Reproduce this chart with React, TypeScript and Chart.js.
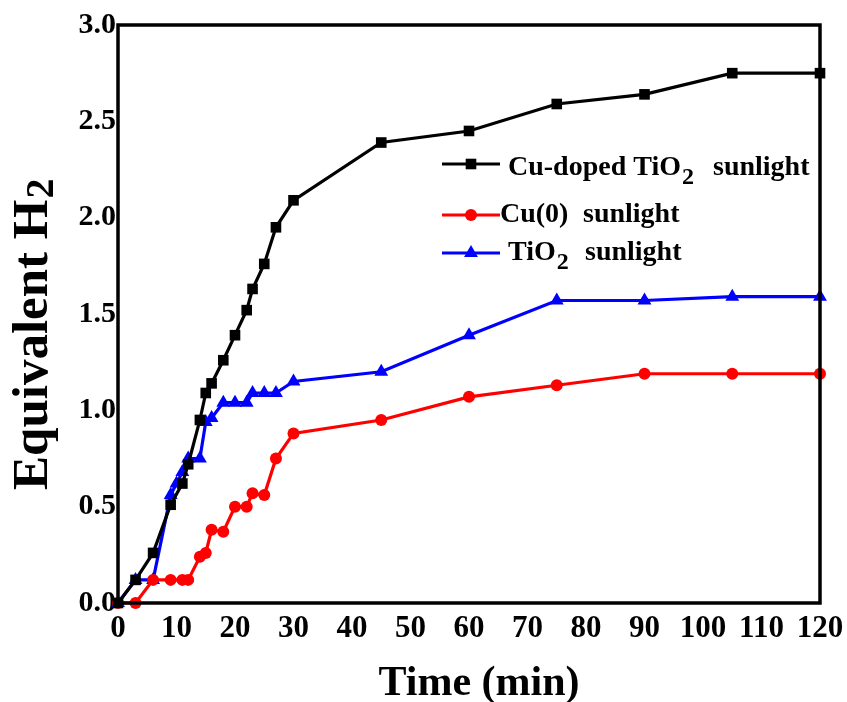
import React, { useEffect, useRef } from "react";
import { Chart, registerables } from "chart.js";

Chart.register(...registerables);

const xTickValues = [0, 10, 20, 30, 40, 50, 60, 70, 80, 90, 100, 110, 120];
const yTickValues = [0, 0.5, 1.0, 1.5, 2.0, 2.5, 3.0];

const cuDopedTimes = [0, 3, 6, 9, 11, 12, 14, 15, 16, 18, 20, 22, 23, 25, 27, 30, 45, 60, 75, 90, 105, 120];
const cuDopedValues = [0, 0.12, 0.26, 0.51, 0.62, 0.72, 0.95, 1.09, 1.14, 1.26, 1.39, 1.52, 1.63, 1.76, 1.95, 2.09, 2.39, 2.45, 2.59, 2.64, 2.75, 2.75];

const cu0Times = [0, 3, 6, 9, 11, 12, 14, 15, 16, 18, 20, 22, 23, 25, 27, 30, 45, 60, 75, 90, 105, 120];
const cu0Values = [0, 0, 0.12, 0.12, 0.12, 0.12, 0.24, 0.26, 0.38, 0.37, 0.5, 0.5, 0.57, 0.56, 0.75, 0.88, 0.95, 1.07, 1.13, 1.19, 1.19, 1.19];

const tio2Times = [0, 3, 6, 9, 10, 11, 12, 14, 15, 16, 18, 20, 22, 23, 25, 27, 30, 45, 60, 75, 90, 105, 120];
const tio2Values = [0, 0.12, 0.12, 0.56, 0.62, 0.68, 0.75, 0.75, 0.94, 0.96, 1.04, 1.04, 1.04, 1.09, 1.09, 1.09, 1.15, 1.2, 1.39, 1.57, 1.57, 1.59, 1.59];

const FONT = "'Liberation Serif', 'Times New Roman', serif";

const toPoints = (xs: number[], ys: number[]) => xs.map((x, i) => ({ x, y: ys[i] }));

function drawMarker(ctx: CanvasRenderingContext2D, style: string, x: number, y: number, r: number, color: string) {
  ctx.save();
  ctx.fillStyle = color;
  ctx.beginPath();
  if (style === "rect") {
    const s = r * Math.SQRT1_2;
    ctx.rect(x - s, y - s, 2 * s, 2 * s);
  } else if (style === "circle") {
    ctx.arc(x, y, r, 0, Math.PI * 2);
  } else {
    ctx.moveTo(x, y - r);
    ctx.lineTo(x + r * 0.866, y + r * 0.5);
    ctx.lineTo(x - r * 0.866, y + r * 0.5);
    ctx.closePath();
  }
  ctx.fill();
  ctx.restore();
}

const decorPlugin = {
  id: "decor",
  afterDatasetsDraw(chart: any) {
    const { ctx, chartArea } = chart;
    const { left, right, top, bottom } = chartArea;
    ctx.save();
    ctx.strokeStyle = "#000";
    ctx.lineWidth = 3.5;
    ctx.strokeRect(left, top, right - left, bottom - top);

    ctx.fillStyle = "#000";
    ctx.font = `bold 42px ${FONT}`;
    ctx.textAlign = "center";
    ctx.textBaseline = "alphabetic";
    ctx.fillText("Time (min)", 479, 695);

    ctx.save();
    ctx.translate(47, 490);
    ctx.rotate(-Math.PI / 2);
    ctx.textAlign = "left";
    ctx.font = `bold 51px ${FONT}`;
    const main = "Equivalent H";
    ctx.fillText(main, 0, 0);
    const w = ctx.measureText(main).width;
    ctx.font = `bold 40px ${FONT}`;
    ctx.fillText("2", w + 1, 6);
    ctx.restore();

    const rows: any[] = [
      { y: 164, color: "#000", style: "rect", r: 7.5, parts: [["Cu-doped TiO", 508], ["2", 0], ["sunlight", 713]] },
      { y: 215, color: "#ff0000", style: "circle", r: 6, parts: [["Cu(0)", 500], ["sunlight", 583]] },
      { y: 253, color: "#0000ff", style: "triangle", r: 8, parts: [["TiO", 508], ["2", 0], ["sunlight", 585]] },
    ];
    const baseOffsets = [11, 7, 7];
    rows.forEach((row, idx) => {
      ctx.strokeStyle = row.color;
      ctx.lineWidth = 3.2;
      ctx.beginPath();
      ctx.moveTo(442, row.y);
      ctx.lineTo(500, row.y);
      ctx.stroke();
      drawMarker(ctx, row.style, 471, row.y, row.r, row.color);
      ctx.fillStyle = "#000";
      ctx.textAlign = "left";
      const baseline = row.y + baseOffsets[idx];
      let lastEnd = 0;
      row.parts.forEach(([txt, x]: any) => {
        if (txt === "2") {
          ctx.font = `bold 24px ${FONT}`;
          ctx.fillText("2", lastEnd + 1, baseline + 9);
        } else {
          ctx.font = `bold 28px ${FONT}`;
          ctx.fillText(txt, x, baseline);
          lastEnd = x + ctx.measureText(txt).width;
        }
      });
    });
    ctx.restore();
  },
};

export default function App() {
  const ref = useRef<HTMLCanvasElement | null>(null);

  useEffect(() => {
    if (!ref.current) return;
    const chart = new Chart(ref.current, {
      type: "line",
      data: {
        datasets: [
          {
            label: "Cu-doped TiO2 sunlight",
            data: toPoints(cuDopedTimes, cuDopedValues),
            borderColor: "#000",
            backgroundColor: "#000",
            borderWidth: 3.2,
            pointStyle: "rect",
            pointRadius: 7.5,
            pointBorderWidth: 0,
            tension: 0,
            clip: false,
          },
          {
            label: "Cu(0) sunlight",
            data: toPoints(cu0Times, cu0Values),
            borderColor: "#ff0000",
            backgroundColor: "#ff0000",
            borderWidth: 3.2,
            pointStyle: "circle",
            pointRadius: 6,
            pointBorderWidth: 0,
            tension: 0,
            clip: false,
          },
          {
            label: "TiO2 sunlight",
            data: toPoints(tio2Times, tio2Values),
            borderColor: "#0000ff",
            backgroundColor: "#0000ff",
            borderWidth: 3.2,
            pointStyle: "triangle",
            pointRadius: 8,
            pointBorderWidth: 0,
            tension: 0,
            clip: false,
          },
        ],
      },
      options: {
        responsive: false,
        animation: false,
        devicePixelRatio: 1,
        layout: { padding: { left: 0, right: 27, top: 25, bottom: 0 } },
        plugins: {
          legend: { display: false },
          tooltip: { enabled: false },
          title: { display: false },
        },
        scales: {
          x: {
            type: "linear",
            min: 0,
            max: 120,
            afterBuildTicks: (scale: any) => {
              scale.ticks = xTickValues.map((v) => ({ value: v }));
            },
            afterFit: (scale: any) => {
              scale.height = 99;
              scale.paddingLeft = 0;
              scale.paddingRight = 0;
            },
            grid: { display: false, drawTicks: false },
            border: { display: false },
            ticks: {
              padding: 7,
              color: "#000",
              maxRotation: 0,
              autoSkip: false,
              font: { family: FONT, size: 31, weight: "bold" },
              callback: (v: any) => String(v),
            },
          },
          y: {
            type: "linear",
            min: 0,
            max: 3,
            afterBuildTicks: (scale: any) => {
              scale.ticks = yTickValues.map((v) => ({ value: v }));
            },
            afterFit: (scale: any) => {
              scale.width = 118;
              scale.paddingTop = 0;
              scale.paddingBottom = 0;
            },
            grid: { display: false, drawTicks: false },
            border: { display: false },
            ticks: {
              padding: 2,
              color: "#000",
              autoSkip: false,
              font: { family: FONT, size: 30, weight: "bold" },
              callback: (v: any) => Number(v).toFixed(1),
            },
          },
        },
      },
      plugins: [decorPlugin],
    } as any);
    return () => chart.destroy();
  }, []);

  return (
    <div style={{ position: "fixed", left: 0, top: 0, width: 847, height: 702, background: "#fff" }}>
      <canvas ref={ref} width={847} height={702} style={{ width: 847, height: 702 }} />
    </div>
  );
}
